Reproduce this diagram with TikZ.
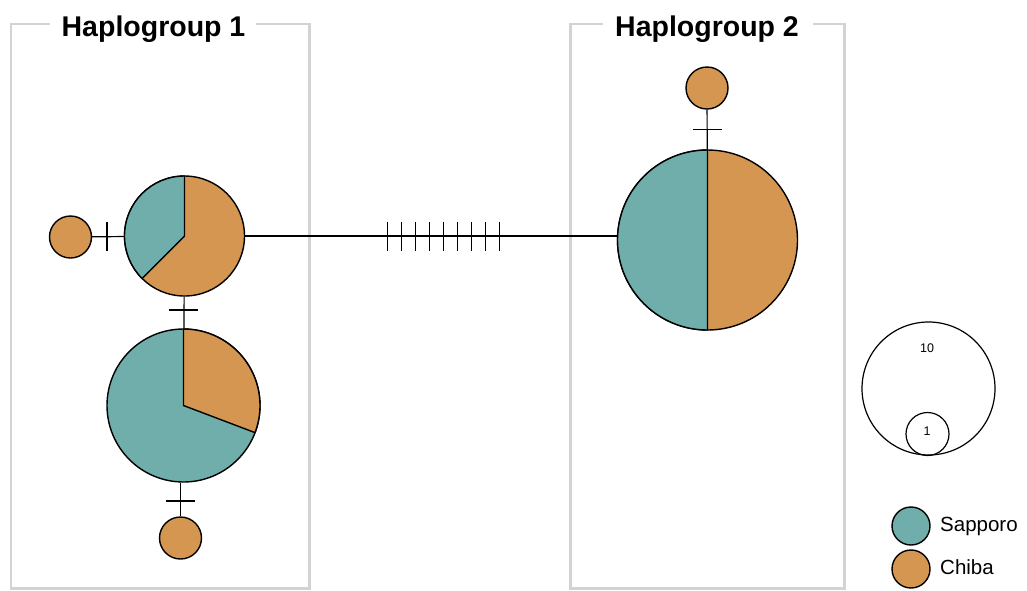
\documentclass[tikz,border=0pt]{standalone}
\usepackage{fontspec}
\setmainfont{Liberation Sans}
\definecolor{sap}{RGB}{111,174,170}
\definecolor{chi}{RGB}{213,150,82}
\definecolor{boxgray}{RGB}{211,211,211}
\begin{document}
\begin{tikzpicture}[x=1pt,y=-1pt,
  hap/.style={circle, draw=black, line width=1.4pt, inner sep=0pt},
  wedge/.style={draw=black, line width=1.4pt, line join=round},
  conn/.style={line width=1.2pt, black},
  tickmark/.style={line width=1.5pt, black},
  grpbox/.style={draw=boxgray, line width=2.6pt},
  grptitle/.style={font=\fontsize{28.5}{34}\selectfont\bfseries, anchor=base, inner sep=0pt},
  legtext/.style={font=\fontsize{20.5}{24}\selectfont, anchor=base west, inner sep=0pt},
  sizetext/.style={font=\fontsize{12.5}{14}\selectfont, inner sep=0pt},
]
\useasboundingbox (0,0) rectangle (1027,590);

% group boxes
\draw[grpbox] (50,24) -- (11,24) -- (11,588.5) -- (309.5,588.5) -- (309.5,24) -- (256,24);
\draw[grpbox] (603,24) -- (570.5,24) -- (570.5,588.5) -- (844.5,588.5) -- (844.5,24) -- (813,24);
\node[grptitle] (t1) at (153.5,36) {Haplogroup 1};
\node[grptitle] (t2) at (707,36) {Haplogroup 2};

% haplotype nodes
\node[hap, fill=chi, minimum size=120pt] (h1) at (184.5,236) {};
\draw[wedge, fill=sap] (h1.center) -- ++(90:60pt) arc[start angle=90, end angle=225, radius=60pt] -- cycle;

\node[hap, fill=sap, minimum size=153pt] (h2) at (183.5,405.5) {};
\draw[wedge, fill=chi] (h2.center) -- ++(90:76.5pt) arc[start angle=90, end angle=-20.77, radius=76.5pt] -- cycle;

\node[hap, fill=chi, minimum size=180pt] (hr) at (707.5,240) {};
\draw[wedge, fill=sap] (hr.center) -- ++(90:90pt) arc[start angle=90, end angle=270, radius=90pt] -- cycle;

\node[hap, fill=chi, minimum size=42pt] (s1) at (70.5,237) {};
\node[hap, fill=chi, minimum size=42pt] (s2) at (180.5,538) {};
\node[hap, fill=chi, minimum size=42pt] (sr) at (707,88) {};

% connectors
\draw[conn] (s1) -- (h1);
\draw[conn] (h1) -- (h2);
\draw[conn] (h2.south -| s2) -- (s2);
\draw[conn] (h1.east) -- (h1.east -| hr.west);
\draw[conn] (sr) -- (hr);

% mutation ticks
\foreach \i in {0,...,8} \draw[tickmark] ({387.7+14*\i},222) -- ({387.7+14*\i},251);
\draw[tickmark] (107,222) -- (107,251);
\draw[tickmark] (169,310) -- (198,310);
\draw[tickmark] (166,501) -- (195,501);
\draw[tickmark] (693,129.5) -- (722,129.5);

% size legend
\node[hap, line width=1.2pt, minimum size=133pt] (l10) at (928.5,388.5) {};
\node[hap, line width=1.2pt, minimum size=43pt] (l1) at (927.5,434) {};
\node[sizetext] (n10) at (927,348) {10};
\node[sizetext] (n1) at (927,431) {1};

% colour legend
\node[hap, fill=sap, minimum size=38pt] (lsap) at (911,526) {};
\node[hap, fill=chi, minimum size=38pt] (lchi) at (911,569) {};
\node[legtext] (tsap) at (940,531) {Sapporo};
\node[legtext] (tchi) at (940,574.5) {Chiba};
\end{tikzpicture}
\end{document}
